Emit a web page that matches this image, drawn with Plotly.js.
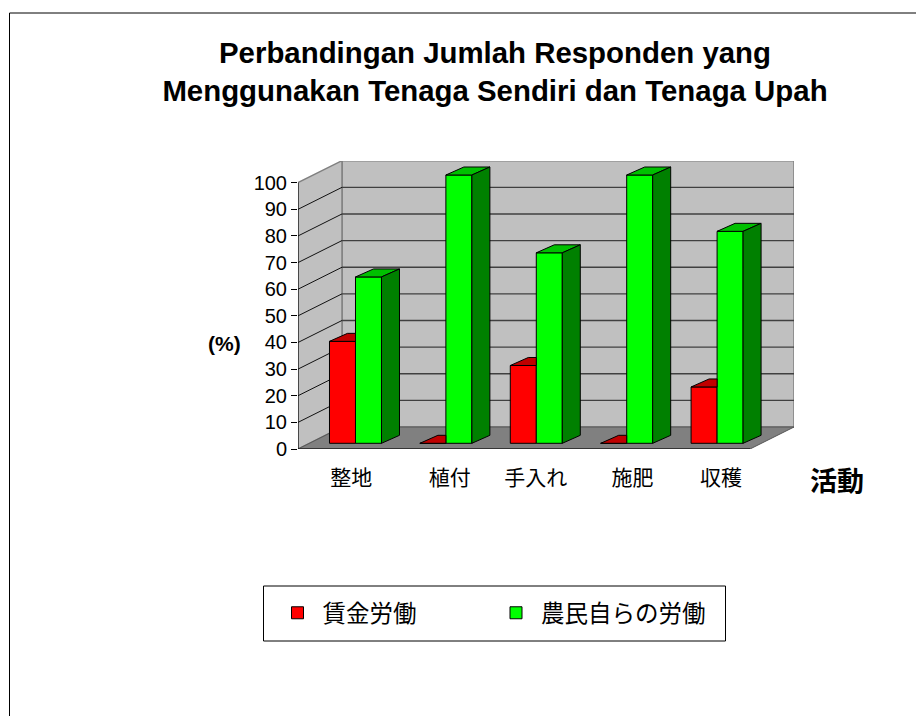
<!DOCTYPE html>
<html><head><meta charset="utf-8">
<script src="https://cdn.plot.ly/plotly-3.0.1.min.js"></script>
<style>html,body{margin:0;padding:0;background:#fff}</style>
</head><body><div id="chart" style="width:916px;height:716px"></div>
<script>
const categories = ['整地','植付','手入れ','施肥','収穫'];
const hiredLabour = [38,0,29,0,21];
const ownLabour = [62,100,71,100,79];
const seriesNames = ['賃金労働','農民自らの労働'];
const yTicks = [0,10,20,30,40,50,60,70,80,90,100];
const labelNudge = [0.09,0.18,0.13,0.2,0.18];
const titleLines = ['Perbandingan Jumlah Responden yang','Menggunakan Tenaga Sendiri dan Tenaga Upah'];

const W=916,H=716;
const L=298,R=794,T=161,B=449;
const catPx=90.4, wallDX=44, wallDY=22;
const unitY=2.663, barUnitY=2.683, barBaseUp=5.7;
const dX=wallDX/catPx, dY=wallDY/unitY;
const shiftX=0.136, barW=26/catPx, bDX=18/catPx, bDY=8/barUnitY;
const xs=categories.map((_,i)=>i);
const x0=-0.5,x1=categories.length-0.5;
const yTop=yTicks[yTicks.length-1];
const px=v=>(v-L)/(R-L), py=v=>(B-v)/(B-T);

function poly(name,x,y,fill,line,lw,ya){
  return {type:'scatter',mode:lw?'lines':'none',x,y,fill:'toself',fillcolor:fill,
    line:{color:line||fill,width:lw||0},hoverinfo:'skip',showlegend:false,cliponaxis:false,name,xaxis:'x',yaxis:ya||'y'};
}
function lines(name,x,y,color,w){
  return {type:'scatter',mode:'lines',x,y,line:{color,width:w},hoverinfo:'skip',showlegend:false,cliponaxis:false,name,xaxis:'x',yaxis:'y'};
}
const traces=[];
traces.push(poly('backwall',[x0+dX,x1+dX,x1+dX,x0+dX,x0+dX],[dY,dY,yTop+dY,yTop+dY,dY],'#C0C0C0','#808080',1.5));
traces.push(poly('sidewall',[x0,x0+dX,x0+dX,x0,x0],[0,dY,yTop+dY,yTop,0],'#C0C0C0','#808080',1.5));
traces.push(poly('floor',[x0,x1,x1+dX,x0+dX,x0],[0,0,dY,dY,0],'#808080','#555555',1));
const gbx=[],gby=[],gsx=[],gsy=[];
yTicks.slice(1,-1).forEach(v=>{
  gbx.push(x0+dX,x1+dX,null); gby.push(v+dY,v+dY,null);
  gsx.push(x0,x0+dX,null); gsy.push(v,v+dY,null);
});
traces.push(lines('gridback',gbx,gby,'#404040',1.4));
traces.push(lines('gridside',gsx,gsy,'#111111',1));
traces.push(lines('yaxisline',[x0,x0],[0,yTop],'#000000',1));
const ax=[x0,x1,null],ay=[0,0,null];
for(let i=0;i<=categories.length;i++){ax.push(x0+i,x0+i,null);ay.push(0,-6/unitY,null);}
traces.push(lines('xaxisline',ax,ay,'#000000',1));

const bx=xs.map(i=>i+shiftX);
const barLine={color:'#000',width:1};
traces.push({type:'bar',name:seriesNames[0],x:bx,y:hiredLabour,width:barW,offset:-barW,
  marker:{color:'#FF0000',line:barLine},xaxis:'x',yaxis:'y2',hoverinfo:'skip'});
traces.push({type:'bar',name:seriesNames[1],x:bx,y:ownLabour,width:barW,offset:0,
  marker:{color:'#00FF00',line:barLine},xaxis:'x',yaxis:'y2',hoverinfo:'skip'});
const rtx=[],rty=[],gtx=[],gty=[],gsdx=[],gsdy=[];
bx.forEach((c,i)=>{
  const r=hiredLabour[i],g=ownLabour[i];
  rtx.push(c-barW,c,c,c-barW+bDX,c-barW,null); rty.push(r,r,r+bDY,r+bDY,r,null);
  gtx.push(c,c+barW,c+barW+bDX,c+bDX,c,null); gty.push(g,g,g+bDY,g+bDY,g,null);
  gsdx.push(c+barW,c+barW+bDX,c+barW+bDX,c+barW,c+barW,null); gsdy.push(0,bDY,g+bDY,g,0,null);
});
traces.push(poly('redtop',rtx,rty,'#C00000','#000',1,'y2'));
traces.push(poly('greentop',gtx,gty,'#00C000','#000',1,'y2'));
traces.push(poly('greenside',gsdx,gsdy,'#008000','#000',1,'y2'));

const cjk='"Noto Sans CJK JP", sans-serif', latin='"Liberation Sans", Arial, sans-serif';
const layout={
  width:W,height:H,paper_bgcolor:'#fff',plot_bgcolor:'rgba(0,0,0,0)',
  margin:{l:L,r:W-R,t:T,b:H-B,pad:0},
  barmode:'overlay',
  title:{text:titleLines.join('<br>'),font:{family:latin,size:29.4,color:'#000',weight:700},
    x:495/W,xanchor:'center',y:1-62.5/H,yanchor:'middle'},
  xaxis:{range:[x0,x1+dX],tickmode:'array',tickvals:xs.map((i)=>i+labelNudge[i]),ticktext:categories,ticks:'',
    showgrid:false,zeroline:false,showline:false,tickfont:{family:cjk,size:21,color:'#000'},ticklabelstandoff:14,fixedrange:true},
  yaxis:{range:[0,(B-T)/unitY],tickmode:'array',tickvals:yTicks,ticks:'outside',ticklen:6,tickcolor:'#000',tickwidth:1,
    showgrid:false,zeroline:false,showline:false,tickfont:{family:latin,size:20,color:'#000'},fixedrange:true},
  yaxis2:{overlaying:'y',range:[-barBaseUp/barUnitY,(B-T-barBaseUp)/barUnitY],visible:false,fixedrange:true},
  showlegend:true,
  legend:{orientation:'h',x:px(272.5),xanchor:'left',y:py(591),yanchor:'top',
    entrywidth:163.5,entrywidthmode:'pixels',itemwidth:40,font:{family:cjk,size:23.5,color:'#000'},
    borderwidth:0,bgcolor:'rgba(0,0,0,0)',itemclick:false,itemdoubleclick:false,traceorder:'normal'},
  annotations:[
    {text:'(%)',xref:'paper',yref:'paper',x:px(224),y:py(343),xanchor:'center',yanchor:'middle',showarrow:false,
      font:{family:latin,size:21,color:'#000',weight:700}},
    {text:'活動',xref:'paper',yref:'paper',x:px(837),y:py(479),xanchor:'center',yanchor:'middle',showarrow:false,
      font:{family:cjk,size:27,color:'#000',weight:700}}
  ],
  shapes:[
    {type:'line',xref:'paper',yref:'paper',x0:px(9.5),x1:px(916),y0:py(13),y1:py(13),line:{color:'#000',width:1}},
    {type:'line',xref:'paper',yref:'paper',x0:px(9.5),x1:px(9.5),y0:py(13),y1:py(716),line:{color:'#000',width:1}},
    {type:'rect',xref:'paper',yref:'paper',x0:px(263.5),x1:px(725.5),y0:py(586),y1:py(641),line:{color:'#000',width:1},fillcolor:'rgba(0,0,0,0)'}
  ]
};
Plotly.newPlot('chart',traces,layout,{displayModeBar:false,responsive:false});
</script></body></html>
